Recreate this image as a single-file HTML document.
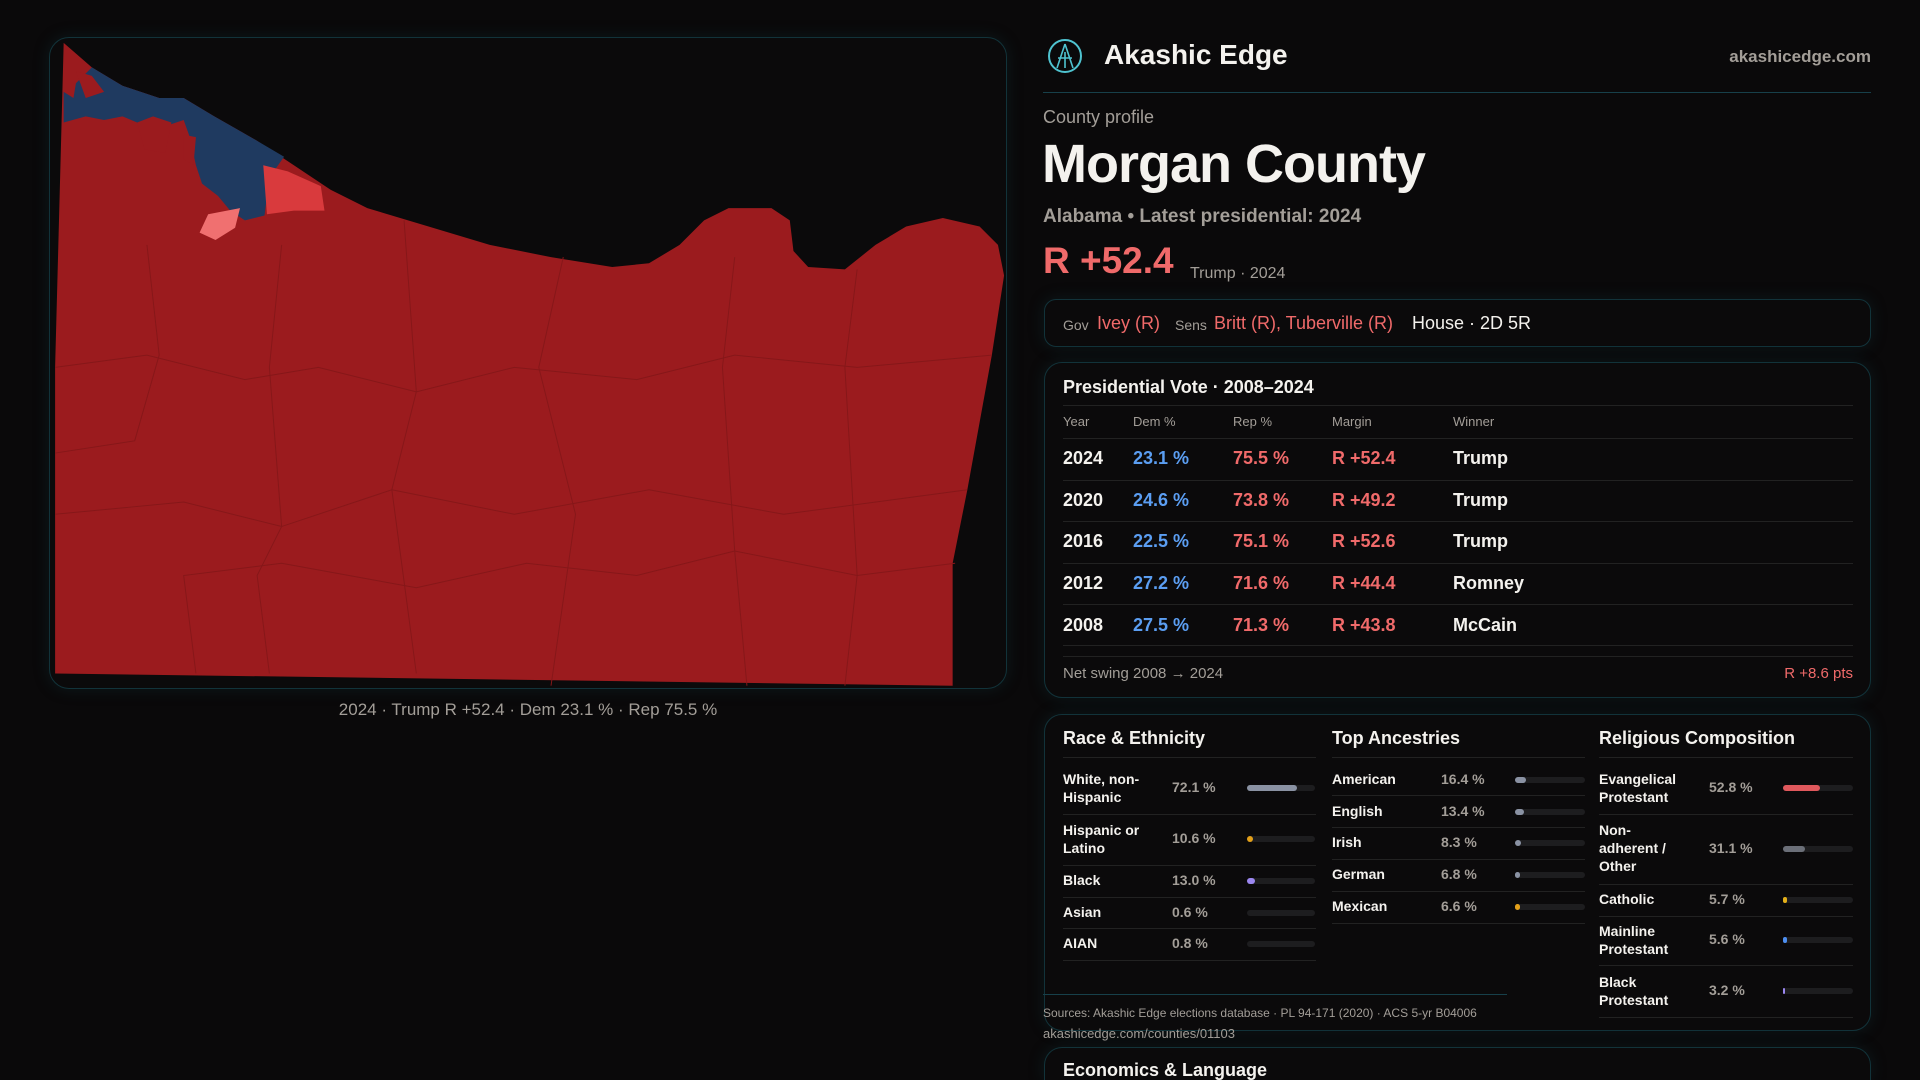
<!DOCTYPE html>
<html style="overflow:hidden;height:1080px"><head><meta charset="utf-8"><style>
*{margin:0;padding:0;box-sizing:border-box}
body{width:1920px;height:1080px;background:#0a090a;font-family:"Liberation Sans",sans-serif;color:#f4f2ee;position:relative;overflow:hidden}
.a{position:absolute;white-space:nowrap}
.g{color:#a39e98}.r{color:#f06a6a}.b{color:#5b9ef2}
.box{position:absolute;border:1px solid #12333a;border-radius:18px;background:#0b0a0b;box-shadow:0 0 16px rgba(20,70,80,.25)}
.hl{position:absolute;height:1px;background:#222}
.bar{position:absolute;height:6px;border-radius:3px;background:#1d1d1f}
.bar i{display:block;height:6px;border-radius:3px}
</style></head><body>
<div class="box" style="left:49px;top:37px;width:958px;height:652px;border-radius:20px"></div>
<svg class="a" style="left:0;top:0" width="1920" height="1080" viewBox="0 0 1568 882">
<path d="M52,35 L75,55 L100,70 L130,80 L150,80 L175,95 L210,115 L240,135 L270,155 L300,170 L350,185 L400,200 L450,210 L500,218 L530,215 L555,200 L575,180 L595,170 L630,170 L645,180 L648,205 L660,218 L690,220 L715,200 L740,185 L770,178 L800,185 L815,200 L820,225 L810,290 L790,400 L778,460 L778,560 L45,550 L45,300 Z" fill="#9b1b1e"/>
<path d="M62,68 L75,55 L100,70 L130,80 L150,80 L175,95 L210,115 L232,128 L220,145 L216,176 L200,180 L188,172 L178,160 L165,150 L160,135 L155,112 L150,98 L135,103 L120,110 L112,100 L100,95 L85,98 L70,95 L52,100 L52,75 L60,80 Z" fill="#1f3a60"/>
<path d="M62,58 L75,62 L85,75 L70,80 Z M112,100 L125,95 L140,100 L135,125 L118,122 Z M150,110 L160,112 L158,135 L150,130 Z" fill="#9b1b1e"/>
<path d="M215,135 L235,140 L262,152 L265,172 L240,172 L218,175 Z" fill="#d93a3d"/>
<path d="M170,175 L196,170 L192,186 L176,196 L163,190 Z" fill="#f07070"/>
<g fill="none" stroke="#861719" stroke-width="0.8">
<path d="M45,300 L120,290 L200,310 L260,300 L340,320 L420,300 L520,310 L600,290 L700,300 L810,290"/>
<path d="M45,420 L150,410 L230,430 L320,400 L420,420 L530,400 L640,420 L790,400"/>
<path d="M160,550 L150,470 L230,460 L340,480 L430,460 L520,470 L600,450 L700,470 L780,460"/>
<path d="M230,200 L220,300 L230,430 L210,470 L220,550"/>
<path d="M330,180 L340,320 L320,400 L340,550"/>
<path d="M460,210 L440,300 L470,420 L450,560"/>
<path d="M600,210 L590,300 L600,450 L610,560"/>
<path d="M700,220 L690,300 L700,470 L690,560"/>
<path d="M120,200 L130,290 L110,360 L45,370"/>
</g>
</svg>
<div class="a g" style="left:0;width:1056px;text-align:center;top:700px;font-size:17px">2024 · Trump R +52.4 · Dem 23.1 % · Rep 75.5 %</div>

<svg class="a" style="left:1047px;top:38px" width="36" height="36" viewBox="0 0 36 36"><circle cx="18" cy="18" r="16" fill="none" stroke="#4fc3d0" stroke-width="2"/><path d="M18,6 L10,30 M18,6 L26,30 M11,20 L25,20 M18,14 L18,30" stroke="#4fc3d0" stroke-width="1.6" fill="none"/></svg>
<div class="a" style="left:1104px;top:39px;font-size:28px;font-weight:bold">Akashic Edge</div>
<div class="a g" style="right:49px;top:47px;font-size:17px;font-weight:bold">akashicedge.com</div>
<div class="a" style="left:1043px;top:92px;width:828px;height:1px;background:#17404a"></div>
<div class="a g" style="left:1043px;top:107px;font-size:18px">County profile</div>
<div class="a" style="left:1042px;top:133px;font-size:54px;font-weight:bold;letter-spacing:-1px">Morgan County</div>
<div class="a g" style="left:1043px;top:206px;font-size:19px;font-weight:bold">Alabama • Latest presidential: 2024</div>
<div class="a r" style="left:1043px;top:240px;font-size:37px;font-weight:bold">R +52.4</div>
<div class="a g" style="left:1190px;top:265px;font-size:16px">Trump · 2024</div>

<div class="box" style="left:1044px;top:299px;width:827px;height:48px;border-radius:12px"></div>
<div class="a g" style="left:1063px;top:317px;font-size:14px">Gov</div>
<div class="a r" style="left:1097px;top:313px;font-size:18px">Ivey (R)</div>
<div class="a g" style="left:1175px;top:317px;font-size:14px">Sens</div>
<div class="a r" style="left:1214px;top:313px;font-size:18px">Britt (R), Tuberville (R)</div>
<div class="a" style="left:1412px;top:313px;font-size:18px">House · 2D 5R</div>

<div class="box" style="left:1044px;top:362px;width:827px;height:336px"></div>
<div class="a" style="left:1063px;top:377px;font-size:18px;font-weight:bold">Presidential Vote · 2008–2024</div>
<div class="hl" style="left:1063px;top:405px;width:790px"></div>
<div class="a g" style="top:414px;font-size:13px;left:1063px">Year</div>
<div class="a g" style="top:414px;font-size:13px;left:1133px">Dem %</div>
<div class="a g" style="top:414px;font-size:13px;left:1233px">Rep %</div>
<div class="a g" style="top:414px;font-size:13px;left:1332px">Margin</div>
<div class="a g" style="top:414px;font-size:13px;left:1453px">Winner</div>
<div class="hl" style="left:1063px;top:438px;width:790px"></div>
<div style="position:absolute;left:0;top:448px;font-size:18px;font-weight:bold">
<div class="a" style="top:0;left:1063px">2024</div><div class="a b" style="top:0;left:1133px">23.1 %</div><div class="a r" style="top:0;left:1233px">75.5 %</div><div class="a r" style="top:0;left:1332px">R +52.4</div><div class="a" style="top:0;left:1453px">Trump</div>
<div class="a" style="top:42px;left:1063px">2020</div><div class="a b" style="top:42px;left:1133px">24.6 %</div><div class="a r" style="top:42px;left:1233px">73.8 %</div><div class="a r" style="top:42px;left:1332px">R +49.2</div><div class="a" style="top:42px;left:1453px">Trump</div>
<div class="a" style="top:83px;left:1063px">2016</div><div class="a b" style="top:83px;left:1133px">22.5 %</div><div class="a r" style="top:83px;left:1233px">75.1 %</div><div class="a r" style="top:83px;left:1332px">R +52.6</div><div class="a" style="top:83px;left:1453px">Trump</div>
<div class="a" style="top:125px;left:1063px">2012</div><div class="a b" style="top:125px;left:1133px">27.2 %</div><div class="a r" style="top:125px;left:1233px">71.6 %</div><div class="a r" style="top:125px;left:1332px">R +44.4</div><div class="a" style="top:125px;left:1453px">Romney</div>
<div class="a" style="top:167px;left:1063px">2008</div><div class="a b" style="top:167px;left:1133px">27.5 %</div><div class="a r" style="top:167px;left:1233px">71.3 %</div><div class="a r" style="top:167px;left:1332px">R +43.8</div><div class="a" style="top:167px;left:1453px">McCain</div>
</div>
<div class="hl" style="left:1063px;top:480px;width:790px"></div>
<div class="hl" style="left:1063px;top:521px;width:790px"></div>
<div class="hl" style="left:1063px;top:563px;width:790px"></div>
<div class="hl" style="left:1063px;top:604px;width:790px"></div>
<div class="hl" style="left:1063px;top:645px;width:790px"></div>
<div class="hl" style="left:1063px;top:656px;width:790px"></div>
<div class="a g" style="left:1063px;top:665px;font-size:15px">Net swing 2008 → 2024</div>
<div class="a r" style="right:67px;top:665px;font-size:15px">R +8.6 pts</div>

<div class="box" style="left:1044px;top:714px;width:827px;height:317px"></div>
<div class="a" style="left:1063px;top:728px;font-size:18px;font-weight:bold">Race &amp; Ethnicity</div>
<div class="a" style="left:1332px;top:728px;font-size:18px;font-weight:bold">Top Ancestries</div>
<div class="a" style="left:1599px;top:728px;font-size:18px;font-weight:bold">Religious Composition</div>
<div class="hl" style="left:1063px;top:757px;width:253px"></div>
<div class="hl" style="left:1332px;top:757px;width:253px"></div>
<div class="hl" style="left:1599px;top:757px;width:254px"></div>
<div style="font-size:14px;font-weight:bold">
<div class="a" style="left:1063px;top:770px;line-height:18px">White, non-<br>Hispanic</div><div class="a g" style="left:1172px;top:779px">72.1 %</div><div class="bar" style="left:1247px;top:785px;width:68px"><i style="width:50px;background:#8a92a3"></i></div>
<div class="hl" style="left:1063px;top:814px;width:253px"></div>
<div class="a" style="left:1063px;top:821px;line-height:18px">Hispanic or<br>Latino</div><div class="a g" style="left:1172px;top:830px">10.6 %</div><div class="bar" style="left:1247px;top:836px;width:68px"><i style="width:6px;background:#e3a019"></i></div>
<div class="hl" style="left:1063px;top:865px;width:253px"></div>
<div class="a" style="left:1063px;top:872px">Black</div><div class="a g" style="left:1172px;top:872px">13.0 %</div><div class="bar" style="left:1247px;top:878px;width:68px"><i style="width:8px;background:#9b87f0"></i></div>
<div class="hl" style="left:1063px;top:897px;width:253px"></div>
<div class="a" style="left:1063px;top:904px">Asian</div><div class="a g" style="left:1172px;top:904px">0.6 %</div><div class="bar" style="left:1247px;top:910px;width:68px"></div>
<div class="hl" style="left:1063px;top:928px;width:253px"></div>
<div class="a" style="left:1063px;top:935px">AIAN</div><div class="a g" style="left:1172px;top:935px">0.8 %</div><div class="bar" style="left:1247px;top:941px;width:68px"></div>
<div class="hl" style="left:1063px;top:960px;width:253px"></div>

<div class="a" style="left:1332px;top:771px">American</div><div class="a g" style="left:1441px;top:771px">16.4 %</div><div class="bar" style="left:1515px;top:777px;width:70px"><i style="width:11px;background:#8a92a3"></i></div>
<div class="hl" style="left:1332px;top:795px;width:253px"></div>
<div class="a" style="left:1332px;top:803px">English</div><div class="a g" style="left:1441px;top:803px">13.4 %</div><div class="bar" style="left:1515px;top:809px;width:70px"><i style="width:9px;background:#8a92a3"></i></div>
<div class="hl" style="left:1332px;top:827px;width:253px"></div>
<div class="a" style="left:1332px;top:834px">Irish</div><div class="a g" style="left:1441px;top:834px">8.3 %</div><div class="bar" style="left:1515px;top:840px;width:70px"><i style="width:6px;background:#8a92a3"></i></div>
<div class="hl" style="left:1332px;top:859px;width:253px"></div>
<div class="a" style="left:1332px;top:866px">German</div><div class="a g" style="left:1441px;top:866px">6.8 %</div><div class="bar" style="left:1515px;top:872px;width:70px"><i style="width:5px;background:#8a92a3"></i></div>
<div class="hl" style="left:1332px;top:891px;width:253px"></div>
<div class="a" style="left:1332px;top:898px">Mexican</div><div class="a g" style="left:1441px;top:898px">6.6 %</div><div class="bar" style="left:1515px;top:904px;width:70px"><i style="width:5px;background:#e3a019"></i></div>
<div class="hl" style="left:1332px;top:923px;width:253px"></div>

<div class="a" style="left:1599px;top:770px;line-height:18px">Evangelical<br>Protestant</div><div class="a g" style="left:1709px;top:779px">52.8 %</div><div class="bar" style="left:1783px;top:785px;width:70px"><i style="width:37px;background:#e0585c"></i></div>
<div class="hl" style="left:1599px;top:814px;width:254px"></div>
<div class="a" style="left:1599px;top:821px;line-height:18px">Non-<br>adherent /<br>Other</div><div class="a g" style="left:1709px;top:840px">31.1 %</div><div class="bar" style="left:1783px;top:846px;width:70px"><i style="width:22px;background:#6b6f78"></i></div>
<div class="hl" style="left:1599px;top:884px;width:254px"></div>
<div class="a" style="left:1599px;top:891px">Catholic</div><div class="a g" style="left:1709px;top:891px">5.7 %</div><div class="bar" style="left:1783px;top:897px;width:70px"><i style="width:4px;background:#e3b019"></i></div>
<div class="hl" style="left:1599px;top:916px;width:254px"></div>
<div class="a" style="left:1599px;top:922px;line-height:18px">Mainline<br>Protestant</div><div class="a g" style="left:1709px;top:931px">5.6 %</div><div class="bar" style="left:1783px;top:937px;width:70px"><i style="width:4px;background:#4d8ef0"></i></div>
<div class="hl" style="left:1599px;top:965px;width:254px"></div>
<div class="a" style="left:1599px;top:973px;line-height:18px">Black<br>Protestant</div><div class="a g" style="left:1709px;top:982px">3.2 %</div><div class="bar" style="left:1783px;top:988px;width:70px"><i style="width:2px;background:#9b87f0"></i></div>
<div class="hl" style="left:1599px;top:1017px;width:254px"></div>
</div>
<div class="a" style="left:1043px;top:994px;width:464px;height:1px;background:#17404a"></div>
<div class="a g" style="left:1043px;top:1006px;font-size:12px">Sources: Akashic Edge elections database · PL 94-171 (2020) · ACS 5-yr B04006</div>
<div class="a g" style="left:1043px;top:1026px;font-size:13px">akashicedge.com/counties/01103</div>

<div class="box" style="left:1044px;top:1047px;width:827px;height:33px;border-bottom:none;border-radius:18px 18px 0 0"></div>
<div class="a" style="left:1063px;top:1060px;font-size:18px;font-weight:bold">Economics &amp; Language</div>
</body></html>
